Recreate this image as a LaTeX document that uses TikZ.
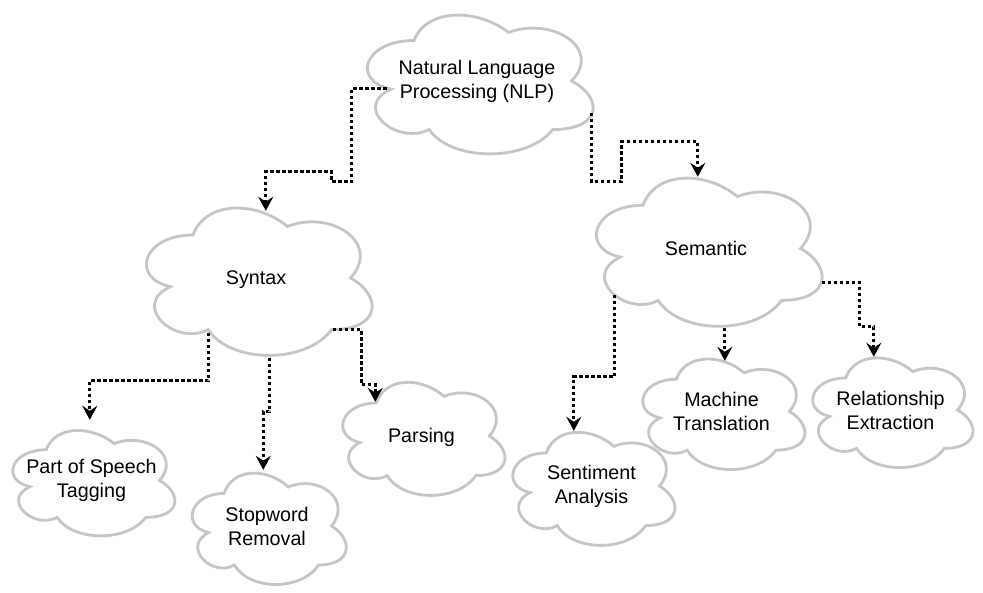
\documentclass[tikz,border=0pt]{standalone}
\usepackage{fontspec}
\setmainfont{Liberation Sans}
\usetikzlibrary{arrows.meta,calc}
\definecolor{cloudgray}{RGB}{198,198,198}
\newcommand\mycloud[7][]{%
  \draw[cloudline, shift={(#3,#4)}, xscale=#5, yscale=#6]
    (0.25,0.25) .. controls (0.05,0.25) and (0,0.5) .. (0.16,0.55)
    .. controls (0,0.66) and (0.18,0.9) .. (0.31,0.8)
    .. controls (0.4,1) and (0.7,1) .. (0.8,0.8)
    .. controls (1,0.8) and (1,0.6) .. (0.875,0.5)
    .. controls (1,0.3) and (0.8,0.1) .. (0.625,0.2)
    .. controls (0.5,0.05) and (0.3,0.05) .. (0.25,0.25) -- cycle;
  \node[cloudtext, minimum width=#5pt, minimum height=#6pt, #1] (#2) at ({#3+#5/2},{#4+#6/2}) {#7};
}
\begin{document}
\begin{tikzpicture}[x=1pt, y=-1pt,
  cloudline/.style={draw=cloudgray, line width=2.8pt, fill=white},
  cloudtext/.style={inner sep=0pt, align=center, font=\fontsize{19.7}{24}\selectfont},
  oneline/.style={text height=16pt, text depth=2pt},
  conn/.style={draw=black, line width=3.1pt, dash pattern=on 3.4pt off 2.6pt,
    -{Stealth[length=14pt, width=15pt, inset=5pt]}}]
\useasboundingbox (0,0) rectangle (983,593);

\mycloud{nlp}{351}{0}{252}{162}{Natural Language\\Processing (NLP)}
\mycloud[oneline]{syntax}{130}{192}{252}{172}{Syntax}
\mycloud[oneline]{semantic}{580}{162}{252}{173}{Semantic}
\mycloud{pos}{1}{419}{181}{123}{Part of Speech\\Tagging}
\mycloud{stop}{181}{461}{172}{130}{Stopword\\Removal}
\mycloud[oneline]{parsing}{331}{370}{181}{132}{Parsing}
\mycloud{senti}{501}{420}{181}{132}{Sentiment\\Analysis}
\mycloud{mt}{631}{347}{181}{129}{Machine\\Translation}
\mycloud{re}{801}{346}{179}{128}{Relationship\\Extraction}

% NLP -> Syntax
\draw[conn] ([shift={(36,89)}]nlp.north west) -- ++(-35,0) -- ++(0,93) -- ++(-20,0) -- ++(0,-10)
  -| ([shift={(136,19)}]syntax.north west);
% NLP -> Semantic
\draw[conn] ([shift={(241,113)}]nlp.north west) -- ++(0,69) -- ++(30,0) -- ++(0,-40)
  -| ([shift={(118,15)}]semantic.north west);
% Syntax -> POS
\draw[conn] ([shift={(79,141)}]syntax.north west) -- ++(0,48)
  -| ([shift={(89,1)}]pos.north west);
% Syntax -> Stopword
\draw[conn] ([shift={(139.5,166)}]syntax.north west) -- ++(0,54) -- ++(-6,0)
  -- ([shift={(82.5,9)}]stop.north west);
% Syntax -> Parsing
\draw[conn] ([shift={(203,138)}]syntax.north west) -- ++(28.5,0) -- ++(0,55)
  -| ([shift={(44.5,32)}]parsing.north west);
% Semantic -> Sentiment
\draw[conn] ([shift={(35,133)}]semantic.north west) -- ++(0,82)
  -| ([shift={(73,11)}]senti.north west);
% Semantic -> Machine Translation
\draw[conn] ([shift={(145,166)}]semantic.north west) -- ([shift={(94,14)}]mt.north west);
% Semantic -> Relationship Extraction
\draw[conn] ([shift={(242,121)}]semantic.north west) -- ++(38,0) -- ++(0,44)
  -| ([shift={(73,11)}]re.north west);
\end{tikzpicture}
\end{document}
